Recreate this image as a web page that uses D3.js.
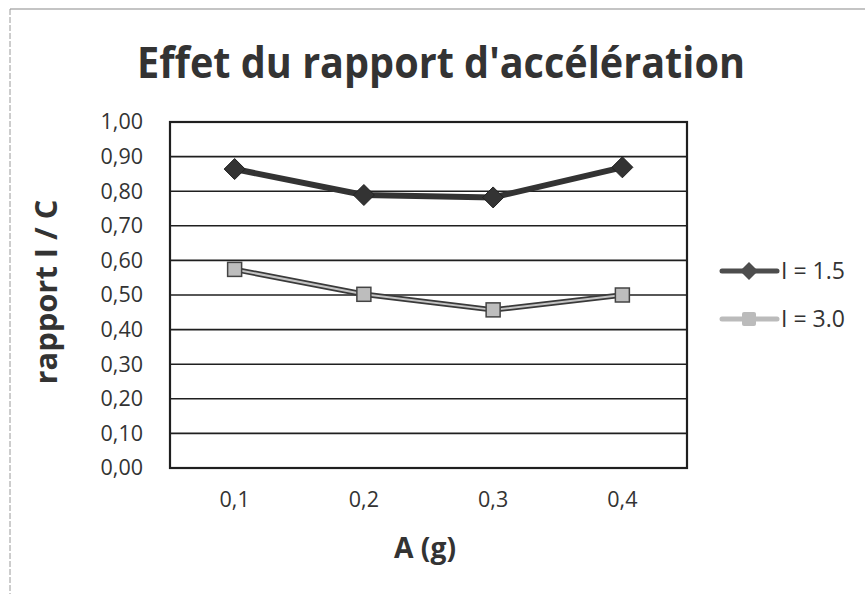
<!DOCTYPE html>
<html>
<head>
<meta charset="utf-8">
<script src="https://cdn.jsdelivr.net/npm/d3@7"></script>
<style>
  html, body { margin: 0; padding: 0; background: #fff; }
  svg { display: block; }
</style>
</head>
<body>
<svg id="chart" width="865" height="594"></svg>
<script>
// ---- data ----
const categories = ["0,1", "0,2", "0,3", "0,4"];
const seriesNames = ["I = 1.5", "I = 3.0"];
const seriesI15 = [0.864, 0.789, 0.782, 0.869];
const seriesI30 = [0.574, 0.502, 0.457, 0.500];
const yTicks = [0, 0.1, 0.2, 0.3, 0.4, 0.5, 0.6, 0.7, 0.8, 0.9, 1.0];
const titleText = "Effet du rapport d'accélération";
const xLabel = "A (g)";
const yLabel = "rapport I / C";

const W = 865, H = 594;
const plot = { left: 170, top: 122, right: 687, bottom: 468 };
const FONT = "'Open Sans', 'DejaVu Sans', sans-serif";

const svg = d3.select("#chart");

// outer frame (scan edge)
svg.append("line").attr("x1", 10).attr("x2", W).attr("y1", 9).attr("y2", 9)
  .attr("stroke", "#8a8a8a").attr("stroke-width", 1.2);
svg.append("line").attr("x1", 10).attr("x2", 10).attr("y1", 9).attr("y2", H)
  .attr("stroke", "#9a9a9a").attr("stroke-width", 1).attr("stroke-dasharray", "6,2");

const x = d3.scaleBand().domain(categories).range([plot.left, plot.right]);
const y = d3.scaleLinear().domain([0, 1]).range([plot.bottom, plot.top]);

// gridlines
svg.append("g").selectAll("line").data(yTicks).join("line")
  .attr("x1", plot.left).attr("x2", plot.right)
  .attr("y1", d => y(d)).attr("y2", d => y(d))
  .attr("stroke", "#1f1f1f").attr("stroke-width", 1.6);

// plot border
svg.append("rect").attr("x", plot.left).attr("y", plot.top)
  .attr("width", plot.right - plot.left).attr("height", plot.bottom - plot.top)
  .attr("fill", "none").attr("stroke", "#1f1f1f").attr("stroke-width", 2.2);

// y axis labels
const yAxis = d3.axisLeft(y).tickValues(yTicks).tickSize(0).tickPadding(27)
  .tickFormat(d => d3.format(".2f")(d).replace(".", ","));
const gy = svg.append("g").attr("transform", `translate(${plot.left},0)`).call(yAxis);
gy.select(".domain").remove();
gy.selectAll("text").attr("font-family", FONT).attr("font-size", 21.5).attr("fill", "#333");

// x axis labels
const xAxis = d3.axisBottom(x).tickSize(0).tickPadding(24);
const gx = svg.append("g").attr("transform", `translate(0,${plot.bottom})`).call(xAxis);
gx.select(".domain").remove();
gx.selectAll("text").attr("font-family", FONT).attr("font-size", 21.5).attr("fill", "#333");

const cx = d => x(d) + x.bandwidth() / 2;
const line = d3.line().x(d => cx(d.c)).y(d => y(d.v));
const pts1 = categories.map((c, i) => ({ c, v: seriesI15[i] }));
const pts2 = categories.map((c, i) => ({ c, v: seriesI30[i] }));

function diamondPath(r) { return `M0,${-r}L${r},0L0,${r}L${-r},0Z`; }

// series I = 3.0
svg.append("path").datum(pts2).attr("d", line).attr("fill", "none")
  .attr("stroke", "#3a3a3a").attr("stroke-width", 5.5).attr("stroke-linejoin", "round");
svg.append("path").datum(pts2).attr("d", line).attr("fill", "none")
  .attr("stroke", "#c4c4c4").attr("stroke-width", 2).attr("stroke-linejoin", "round");
svg.append("g").selectAll("rect").data(pts2).join("rect")
  .attr("x", d => cx(d.c) - 7).attr("y", d => y(d.v) - 7)
  .attr("width", 14).attr("height", 14)
  .attr("fill", "#bdbdbd").attr("stroke", "#444").attr("stroke-width", 1.5);

// series I = 1.5
svg.append("path").datum(pts1).attr("d", line).attr("fill", "none")
  .attr("stroke", "#333").attr("stroke-width", 6).attr("stroke-linejoin", "round");
svg.append("g").selectAll("path").data(pts1).join("path")
  .attr("transform", d => `translate(${cx(d.c)},${y(d.v)})`)
  .attr("d", diamondPath(10.5))
  .attr("fill", "#333").attr("stroke", "#222").attr("stroke-width", 1);

// legend
const legendY = [271, 319];
const legendColors = ["#4d4d4d", "#bbbbbb"];
const lg = svg.append("g");
seriesNames.forEach((name, i) => {
  const yy = legendY[i];
  lg.append("line").attr("x1", 722).attr("x2", 777).attr("y1", yy).attr("y2", yy)
    .attr("stroke", legendColors[i]).attr("stroke-width", 5).attr("stroke-linecap", "round");
  if (i === 0) {
    lg.append("path").attr("transform", `translate(749,${yy})`).attr("d", diamondPath(9))
      .attr("fill", legendColors[i]);
  } else {
    lg.append("rect").attr("x", 742).attr("y", yy - 7).attr("width", 14).attr("height", 14)
      .attr("rx", 2).attr("fill", legendColors[i]);
  }
  lg.append("text").attr("x", 781).attr("y", yy).attr("dy", "0.36em")
    .attr("font-family", FONT).attr("font-size", 23).attr("fill", "#333").text(name);
});

// place a text at (tx,ty) with optional rotation, compressing it horizontally to a target width
function scaledText(tx, ty, rot, txt, size, target) {
  const t = svg.append("text").attr("x", 0).attr("y", 0).attr("text-anchor", "middle")
    .attr("font-family", FONT).attr("font-weight", 700).attr("font-size", size)
    .attr("fill", "#333").text(txt);
  const w = t.node().getComputedTextLength();
  const k = w > 0 ? target / w : 1;
  t.attr("transform", `translate(${tx},${ty}) rotate(${rot}) scale(${k},1)`);
  return t;
}

scaledText(441, 78, 0, titleText, 43, 608);
scaledText(425, 558, 0, xLabel, 29, 62);
scaledText(57, 292, -90, yLabel, 30, 185);
</script>
</body>
</html>
